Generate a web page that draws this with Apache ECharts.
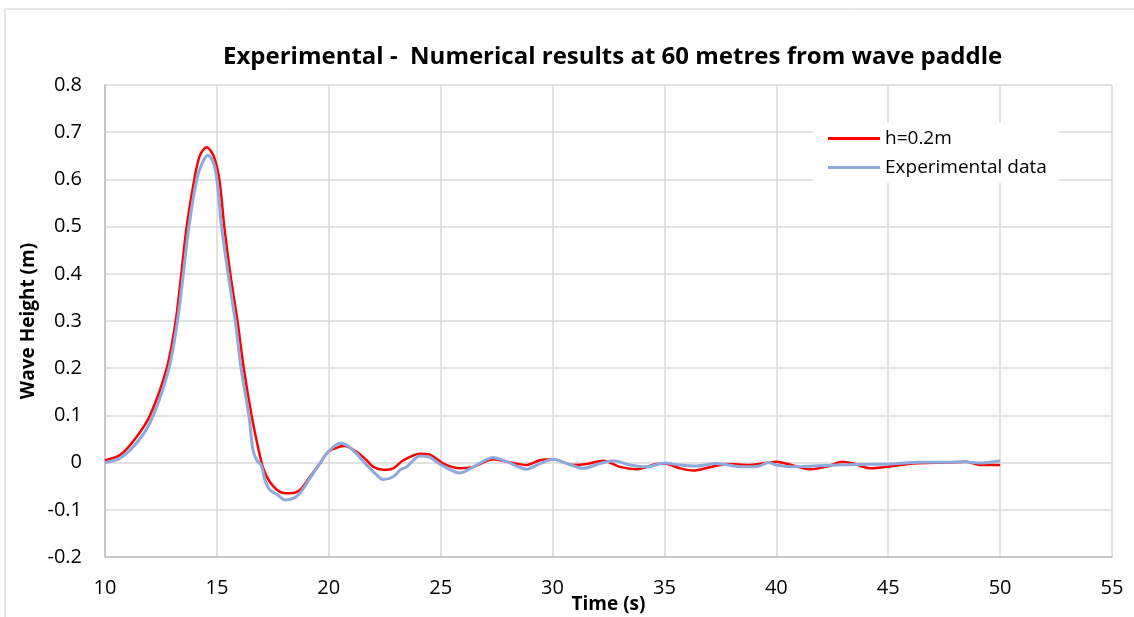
<!DOCTYPE html>
<html>
<head>
<meta charset="utf-8">
<script src="https://cdn.jsdelivr.net/npm/echarts@6/dist/echarts.min.js"></script>
<style>
  html, body { margin: 0; padding: 0; background: #fff; }
  #chart { width: 1134px; height: 617px; }
</style>
</head>
<body>
<div id="chart"></div>
<script>
// numerical result, h = 0.2 m
var timeNum = [10.0, 10.67, 11.34, 12.01, 12.76, 13.16, 13.41, 13.65, 13.99, 14.24, 14.54, 14.84, 15.11, 15.33, 15.6, 15.92, 16.2, 16.55, 16.85, 17.07, 17.37, 17.82, 18.27, 18.71, 19.16, 19.6, 19.98, 20.5, 20.7, 21.24, 21.69, 21.99, 22.43, 22.88, 23.33, 24.07, 24.52, 25.12, 25.86, 26.46, 27.35, 27.95, 28.84, 29.44, 30.03, 30.92, 31.52, 32.26, 33.01, 33.75, 34.65, 35.0, 35.69, 36.29, 37.03, 37.78, 38.82, 40.01, 40.6, 41.5, 42.3, 42.95, 43.44, 44.18, 44.92, 46.12, 47.6, 48.5, 49.1, 50.0];
var heightNum = [0.005, 0.016, 0.05, 0.10, 0.20, 0.30, 0.40, 0.50, 0.60, 0.651, 0.668, 0.651, 0.60, 0.50, 0.40, 0.30, 0.20, 0.10, 0.03, -0.012, -0.041, -0.062, -0.065, -0.058, -0.030, -0.002, 0.023, 0.034, 0.035, 0.023, 0.005, -0.009, -0.015, -0.012, 0.005, 0.019, 0.017, -0.002, -0.012, -0.009, 0.007, 0.002, -0.005, 0.005, 0.007, -0.005, -0.003, 0.004, -0.009, -0.014, -0.003, -0.002, -0.012, -0.017, -0.010, -0.003, -0.005, 0.002, -0.004, -0.014, -0.008, 0.002, -0.002, -0.012, -0.009, -0.002, 0.0, 0.002, -0.005, -0.005];

// experimental data
var timeExp = [10.0, 10.67, 11.56, 12.16, 12.86, 13.24, 13.5, 13.75, 14.1, 14.35, 14.6, 14.85, 15.0, 15.21, 15.5, 15.82, 16.08, 16.43, 16.6, 16.78, 16.98, 17.15, 17.37, 17.74, 18.04, 18.41, 18.71, 19.16, 19.6, 19.98, 20.5, 20.8, 21.24, 21.69, 22.14, 22.43, 22.88, 23.18, 23.48, 24.07, 24.52, 25.0, 25.86, 26.46, 27.35, 27.95, 28.84, 29.44, 30.03, 30.63, 31.37, 32.12, 32.71, 33.46, 34.2, 35.0, 35.69, 36.43, 37.32, 38.52, 39.26, 39.64, 40.0, 40.76, 41.65, 42.7, 43.73, 45.07, 46.42, 47.6, 48.35, 49.1, 50.0];
var heightExp = [0.0, 0.009, 0.05, 0.10, 0.20, 0.30, 0.40, 0.50, 0.60, 0.635, 0.651, 0.635, 0.60, 0.50, 0.40, 0.30, 0.20, 0.10, 0.03, 0.005, -0.005, -0.037, -0.058, -0.069, -0.079, -0.076, -0.065, -0.033, -0.002, 0.023, 0.041, 0.037, 0.019, -0.005, -0.026, -0.036, -0.030, -0.016, -0.009, 0.014, 0.011, -0.004, -0.022, -0.009, 0.011, 0.002, -0.014, -0.002, 0.007, -0.002, -0.012, -0.002, 0.004, -0.005, -0.009, -0.001, -0.005, -0.007, -0.002, -0.009, -0.007, 0.0, -0.005, -0.009, -0.007, -0.005, -0.004, -0.003, 0.001, 0.001, 0.002, -0.001, 0.004];

function pairs(xs, ys) {
  return xs.map(function (x, i) { return [x, ys[i]]; });
}

var myChart = echarts.init(document.getElementById('chart'));
var font = 'Open Sans, Liberation Sans, sans-serif';

option = {
  backgroundColor: '#fff',
  animation: false,
  textStyle: { fontFamily: font },
  title: {
    text: 'Experimental -  Numerical results at 60 metres from wave paddle',
    left: 218,
    top: 40,
    textStyle: { fontSize: 24, fontWeight: 'bold', color: '#000', fontFamily: font }
  },
  graphic: [{
    type: 'rect',
    shape: { x: 5, y: 9, width: 1140, height: 620 },
    style: { fill: 'none', stroke: '#d0d0d0', lineWidth: 1 },
    silent: true
  }],
  legend: {
    orient: 'vertical',
    left: 813,
    top: 123,
    padding: [6, 12, 6, 15],
    backgroundColor: '#fff',
    itemWidth: 52,
    itemHeight: 3,
    itemGap: 10,
    textStyle: { fontSize: 19, color: '#000', fontFamily: font },
    data: [
      { name: 'h=0.2m', icon: 'rect' },
      { name: 'Experimental data', icon: 'rect' }
    ]
  },
  grid: { left: 105, right: 22, top: 85, bottom: 60, outerBoundsMode: 'none', containLabel: false },
  xAxis: {
    type: 'value',
    min: 10,
    max: 55,
    interval: 5,
    name: 'Time (s)',
    nameLocation: 'middle',
    nameGap: 38,
    nameMoveOverlap: false,
    nameTextStyle: { fontSize: 19, fontWeight: 'bold', color: '#000' },
    axisLine: { show: true, onZero: false, lineStyle: { color: '#bfbfbf', width: 1.5 } },
    axisTick: { show: false },
    axisLabel: { fontSize: 20, color: '#000', margin: 21 },
    splitLine: { show: true, lineStyle: { color: '#d9d9d9', width: 1.5 } }
  },
  yAxis: {
    type: 'value',
    min: -0.2,
    max: 0.8,
    interval: 0.1,
    name: 'Wave Height (m)',
    nameLocation: 'middle',
    nameGap: 67,
    nameMoveOverlap: false,
    nameTextStyle: { fontSize: 19, fontWeight: 'bold', color: '#000' },
    axisLine: { show: true, lineStyle: { color: '#bfbfbf', width: 1.5 } },
    axisTick: { show: false },
    axisLabel: {
      fontSize: 20, color: '#000', margin: 23,
      formatter: function (v) { return String(Math.round(v * 10) / 10); }
    },
    splitLine: { show: true, lineStyle: { color: '#d9d9d9', width: 1.5 } }
  },
  series: [
    {
      name: 'h=0.2m',
      type: 'line',
      smooth: 0.3,
      showSymbol: false,
      color: '#ff0000',
      lineStyle: { color: '#ff0000', width: 2.5 },
      data: pairs(timeNum, heightNum)
    },
    {
      name: 'Experimental data',
      type: 'line',
      smooth: 0.3,
      showSymbol: false,
      color: '#8eaadc',
      lineStyle: { color: '#8eaadc', width: 3 },
      data: pairs(timeExp, heightExp)
    }
  ]
};

myChart.setOption(option);
</script>
</body>
</html>
